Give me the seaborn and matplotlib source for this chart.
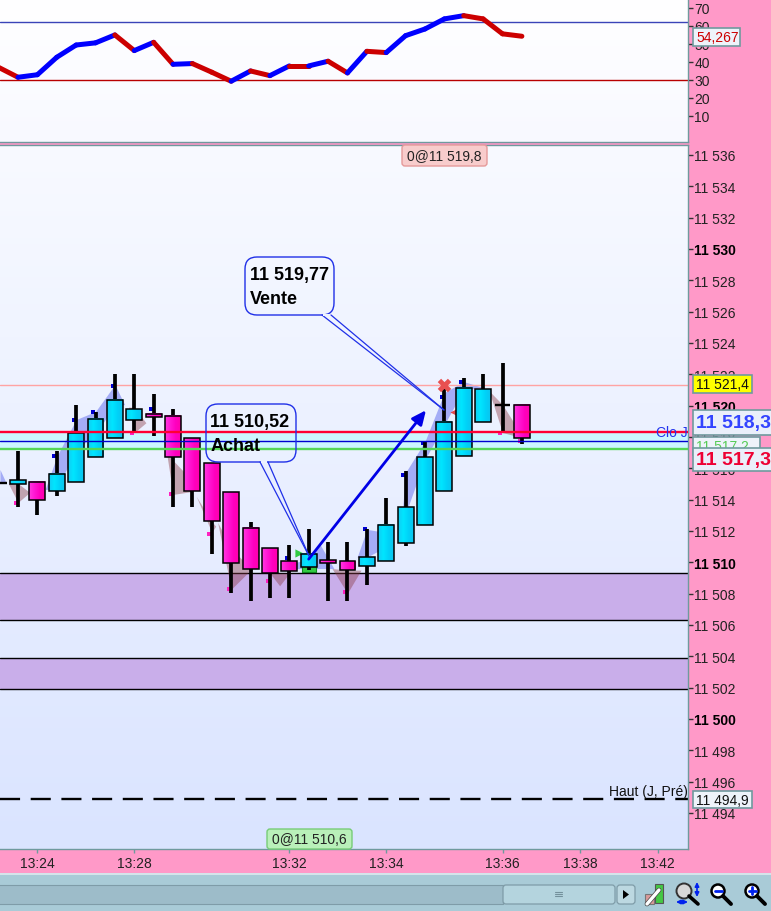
import numpy as np
import matplotlib
matplotlib.use("Agg")
import matplotlib.pyplot as plt
import seaborn as sns
from matplotlib.colors import LinearSegmentedColormap
from matplotlib.patches import Rectangle, FancyBboxPatch, Circle, Polygon

BASE = 11500
idx = list(range(-1, 27))
opens = [15.03, 14.97, 15.10, 14.52, 15.10, 16.69, 17.90, 19.11, 19.49, 19.36, 17.90, 16.31, 14.46, 12.17, 10.89,
         10.06, 9.68, 10.13, 10.06, 9.75, 10.06, 11.21, 12.36, 14.52, 16.75, 18.98, 20.06, 20.06]
closes = [15.03, 15.22, 13.95, 15.61, 18.22, 19.17, 20.38, 19.81, 19.24, 16.69, 14.52, 12.61, 9.94, 9.55, 9.30,
          9.43, 10.51, 9.94, 9.49, 10.32, 12.36, 13.50, 16.69, 18.98, 21.15, 21.08, 20.06, 17.90]
highs = [15.03, 17.07, 15.10, 17.07, 20.06, 19.62, 22.04, 22.04, 20.76, 19.75, 17.90, 16.31, 14.46, 12.55, 10.89,
         11.08, 12.10, 11.27, 11.27, 12.10, 14.08, 15.80, 17.71, 21.08, 21.78, 22.04, 22.74, 20.06]
lows = [15.03, 13.50, 12.99, 14.20, 15.10, 16.69, 17.90, 18.28, 18.03, 13.50, 13.50, 10.51, 8.03, 7.52, 7.71,
        7.71, 9.49, 7.52, 7.52, 8.54, 10.06, 11.02, 12.36, 14.52, 16.75, 18.98, 18.28, 17.52]
rsi_idx = list(range(-1, 27))
rsi = [37.0, 31.5, 32.9, 42.6, 49.4, 50.6, 55.0, 46.3, 50.9, 38.7, 39.1, 34.3, 29.3, 35.0, 32.4, 37.8, 37.8, 40.4,
       33.9, 45.9, 45.2, 54.6, 58.3, 63.9, 65.7, 63.9, 55.6, 54.27]
time_idx = [1, 6, 14, 19, 25, 29, 33]
time_labels = ["13:24", "13:28", "13:32", "13:34", "13:36", "13:38", "13:42"]
price_ticks = list(range(11494, 11537, 2))
rsi_ticks = [10, 20, 30, 40, 50, 60, 70]

shade_blue = [
    ([-0.93, -0.6], [15.92, 15.03], [15.03, 15.03]),
    ([1.4, 2, 3, 4, 5, 5.5], [14.65, 16.75, 19.11, 19.62, 21.34, 20.06], [14.65, 14.65, 17.2, 18.15, 20.06, 20.06]),
    ([13.7, 15, 15.6, 16.3], [9.8, 10.2, 11.1, 9.6], [9.6, 9.6, 9.6, 9.6]),
    ([17.5, 18, 19, 19.3], [10.32, 12.1, 11.9, 11.5], [10.32, 10.32, 11.0, 11.5]),
    ([19.8, 20, 21, 22, 23, 24], [12.74, 15.73, 17.71, 20.83, 21.53, 21.15], [12.74, 13.1, 16.56, 18.79, 21.02, 21.15]),
]
shade_brown = [
    ([-0.5, 0, 0.6], [15.03, 15.03, 14.46], [15.03, 13.82, 14.46]),
    ([5.7, 6, 6.6], [19.9, 19.9, 18.9], [19.9, 18.28, 18.9]),
    ([7.5, 8, 9, 9.1], [18.3, 16.5, 15.2, 14.6], [18.3, 14.33, 14.52, 14.6]),
    ([9.2, 10, 10.2], [14.2, 12.6, 12.3], [14.2, 11.91, 12.3]),
    ([10.3, 11, 12, 12.1], [12.55, 10.9, 9.6, 9.5], [12.55, 8.28, 9.5, 9.5]),
    ([13.0, 13.5, 14.0], [9.3, 9.3, 9.3], [9.3, 8.5, 9.3]),
    ([16.2, 17, 17.7], [9.6, 9.5, 9.5], [9.6, 8.03, 9.5]),
    ([24.3, 25, 26], [20.95, 20.06, 18.1], [20.95, 18.28, 17.95]),
]
high_marks_idx = [2, 3, 4, 5, 7, 14, 18, 20, 21, 22, 23]
high_marks = [16.75, 19.05, 19.62, 21.27, 19.75, 10.25, 12.1, 15.54, 17.64, 20.57, 21.53]
low_marks_idx = [0, 6, 8, 10, 11, 13, 17, 25, 26]
low_marks = [13.76, 18.28, 14.33, 11.78, 8.28, 8.79, 8.09, 18.28, 17.77]
levels = {"clo_red": 18.3, "clo_blue": 17.77, "clo_green": 17.26, "high": 21.34, "haut": -5.1}
zones = [(6.3, 9.3), (1.9, 3.9)]

PINK = "#ff99c8"
sns.set_theme(style="white", rc={"font.family": ["Liberation Sans", "DejaVu Sans"], "axes.linewidth": 1.0})
plt.rcParams["font.family"] = ["Liberation Sans", "DejaVu Sans"]

W, H = 771, 912
fig = plt.figure(figsize=(W / 100, H / 100), dpi=100, facecolor=PINK)


def px_axes(x0, y0, x1, y1, **kw):
    return fig.add_axes([x0 / W, 1 - y1 / H, (x1 - x0) / W, (y1 - y0) / H], **kw)


def grad_bg(ax, top, bottom):
    cm = LinearSegmentedColormap.from_list("bg", [top, bottom])
    ax.imshow(np.linspace(0, 1, 128)[:, None], cmap=cm, extent=[0, 1, 0, 1], transform=ax.transAxes,
              aspect="auto", zorder=0)


EDGE = "#6f9a9e"
X0, X1 = -18 / 19.38, (688 - 18) / 19.38

# ---------- RSI panel
ax_r = px_axes(0, -1, 688, 143)
grad_bg(ax_r, "#ffffff", "#f8f9ff")
ax_r.axhline(61.9, color="#3a44b8", lw=1.0, zorder=1)
ax_r.axhline(30, color="#b80000", lw=1.0, zorder=1)
for k in range(len(rsi) - 1):
    col = "#0000ff" if rsi[k + 1] > rsi[k] else "#cc0000"
    sns.lineplot(x=rsi_idx[k:k + 2], y=rsi[k:k + 2], ax=ax_r, color=col, lw=3.6, errorbar=None, legend=False,
                 solid_capstyle="round", zorder=3)
ax_r.set_xlim(X0, X1)
ax_r.set_ylim(-4.44, 75.5)
ax_r.set_xticks([])
ax_r.set_xlabel("")
ax_r.yaxis.tick_right()
ax_r.set_yticks(rsi_ticks)
ax_r.tick_params(axis="y", right=True, length=3.6, width=1, pad=1, labelsize=10, color="#333333", labelcolor="#222222")
for s in ["top", "left"]:
    ax_r.spines[s].set_visible(False)
for s in ["right", "bottom"]:
    ax_r.spines[s].set_color(EDGE)

# ---------- Price panel
ax = px_axes(0, 146, 688, 850)
grad_bg(ax, "#f8faff", "#dae4ff")
ax.axhspan(BASE + levels["clo_green"], BASE + levels["clo_red"], color="#ccf6ff", lw=0, zorder=1)
for lo, hi in zones:
    ax.axhspan(BASE + lo, BASE + hi, color="#c9aeea", lw=0, zorder=1)
    ax.axhline(BASE + lo, color="black", lw=1, zorder=2)
    ax.axhline(BASE + hi, color="black", lw=1, zorder=2)
for xs, up, low in shade_blue:
    ax.fill_between(xs, BASE + np.array(up), BASE + np.array(low), color="#a4acf6", lw=0, zorder=2)
for xs, up, low in shade_brown:
    ax.fill_between(xs, BASE + np.array(up), BASE + np.array(low), color="#8a3a44", alpha=0.42, lw=0, zorder=2)
ax.axhline(BASE + levels["high"], color="#ffa3a3", lw=1, zorder=2)
ax.axhline(BASE + levels["haut"], color="black", lw=1.7, dashes=(8.5, 4.5), zorder=2)

o, c, h, l = [BASE + np.array(a) for a in (opens, closes, highs, lows)]
ax.vlines(idx, l, h, color="black", lw=2.7, zorder=4)
cyan = LinearSegmentedColormap.from_list("c", ["#12cdf3", "#00e6ff", "#00d2f8", "#0cc4ef"])
mag = LinearSegmentedColormap.from_list("m", ["#ff38e0", "#ff18d4", "#ff00c0", "#ff00ac"])
g = np.linspace(0, 1, 32)[None, :]
w = 0.41
for i, a, b in zip(idx, o, c):
    if a == b:
        ax.hlines(a, i - w, i + w, color="black", lw=1.7, zorder=5)
        continue
    ax.imshow(g, cmap=cyan if b > a else mag, extent=[i - w, i + w, min(a, b), max(a, b)], aspect="auto", zorder=5)
    ax.add_patch(Rectangle((i - w, min(a, b)), 2 * w, abs(a - b), fc="none", ec="black", lw=1.1, zorder=6))
ax.scatter(np.array(high_marks_idx) - 0.12, BASE + np.array(high_marks), marker="s", s=6, color="#0000d0", lw=0, zorder=3)
ax.scatter(np.array(low_marks_idx) - 0.12, BASE + np.array(low_marks), marker="s", s=5, color="#ff20c0", lw=0, zorder=3)

# level lines over the candles
ax.axhline(BASE + levels["clo_red"], color="#ff0033", lw=1.7, zorder=7)
ax.axhline(BASE + levels["clo_blue"], color="#0000d0", lw=1.0, zorder=7)
ax.axhline(BASE + levels["clo_green"], color="#55d655", lw=1.7, zorder=7)

# trade marks
ax.scatter([15], [BASE + 9.8], marker="s", s=90, color="#33cc44", edgecolor="#118822", lw=0.8, zorder=3.5)
ax.scatter([14.48], [BASE + 10.6], marker=">", s=35, color="#33cc44", lw=0, zorder=4)
ax.scatter([22], [BASE + 21.3], marker="X", s=95, color="#e85050", lw=0, zorder=7)
ax.scatter([22.5], [BASE + 19.6], marker="<", s=35, color="#e04848", lw=0, zorder=3)
ax.annotate("", xy=(21.05, BASE + 19.7), xytext=(15, BASE + 10.2),
            arrowprops=dict(arrowstyle="-|>,head_width=0.32,head_length=0.7", color="#0000e6", lw=2, shrinkA=0, shrinkB=0),
            zorder=8)

ax.set_xlim(X0, X1)
ax.set_ylim(BASE - 8.30, BASE + 36.63)
ax.set_xticks(time_idx)
ax.set_xticklabels(time_labels)
ax.yaxis.tick_right()
ax.set_yticks(price_ticks)
ax.set_yticklabels([f"{p // 1000} {p % 1000:03d}" for p in price_ticks])
for t, p in zip(ax.get_yticklabels(), price_ticks):
    t.set_fontweight("bold" if p % 10 == 0 else "normal")
    t.set_color("black" if p % 10 == 0 else "#222222")
ax.tick_params(axis="y", right=True, length=3.6, width=1, pad=1, labelsize=10, color="#333333")
ax.tick_params(axis="x", bottom=True, length=3, width=1, pad=2, labelsize=10, color=EDGE, labelcolor="#222222")
for s in ["top", "left"]:
    ax.spines[s].set_visible(False)
for s in ["right", "bottom"]:
    ax.spines[s].set_color(EDGE)
ax.spines["top"].set_visible(True)
ax.spines["top"].set_color(EDGE)

# ---------- Overlay in pixel coordinates: labels, callouts, toolbar
ov = fig.add_axes([0, 0, 1, 1], facecolor="none", zorder=10)
ov.set_xlim(0, W)
ov.set_ylim(H, 0)
ov.axis("off")


def box(x0, y0, x1, y1, fc, ec=EDGE, lw=1.2, z=3):
    ov.add_patch(Rectangle((x0, y0), x1 - x0, y1 - y0, fc=fc, ec=ec, lw=lw, zorder=z))


def label(x0, y0, x1, y1, s, fc, color, size=10, weight="normal", z=3, ec=EDGE):
    box(x0, y0, x1, y1, fc, ec=ec, z=z)
    ov.text(x0 + 3, (y0 + y1) / 2 + 0.5, s, ha="left", va="center", color=color, fontsize=size, fontweight=weight,
            zorder=z + 0.5, clip_on=True)


label(693, 29, 740, 47, "54,267", "#eef3fa", "#cc0000")
label(693, 376, 752, 394, "11 521,4", "#ffff00", "#111111")
label(693, 438, 760, 456, "11 517,2", "#eef3fa", "#55cc55", z=3)
label(693, 411, 775, 436, "11 518,3", "#eaeffa", "#3344ff", size=14, weight="bold", z=4)
label(693, 449, 775, 472, "11 517,3", "#eaeffa", "#ee0033", size=14, weight="bold", z=5)
label(693, 792, 752, 809, "11 494,9", "#eef3fa", "#111111")
ov.text(688, 433, "Clo J", ha="right", va="center", color="#2233ee", fontsize=10, zorder=2)
ov.text(688, 792, "Haut (J, Pré)", ha="right", va="center", color="#111111", fontsize=10, zorder=2)


def chip(x0, y0, x1, y1, s, fc, ec):
    ov.add_patch(FancyBboxPatch((x0 + 2, y0 + 2), x1 - x0 - 4, y1 - y0 - 4, boxstyle="round,pad=2,rounding_size=3",
                                fc=fc, ec=ec, lw=1, zorder=3))
    ov.text((x0 + x1) / 2, (y0 + y1) / 2 + 0.5, s, ha="center", va="center", fontsize=10, color="#222222", zorder=4)


chip(402, 146, 487, 167, "0@11 519,8", "#f8cccc", "#e59a9a")
chip(267, 830, 352, 850, "0@11 510,6", "#b9f0b9", "#77cc77")

BL = "#2030e8"


def callout(x0, y0, x1, y1, l1, l2, base0, base1, tip):
    ov.add_patch(FancyBboxPatch((x0 + 12, y0 + 12), x1 - x0 - 24, y1 - y0 - 24, boxstyle="round,pad=12,rounding_size=12",
                                fc="none", ec=BL, lw=1, zorder=2))
    ov.plot([base0, tip[0]], [y1, tip[1]], color=BL, lw=0.9, zorder=2)
    ov.plot([base1, tip[0]], [y1, tip[1]], color=BL, lw=0.9, zorder=2)
    ov.add_patch(Rectangle((base0 + 1, y1 - 1), base1 - base0 - 2, 2, fc="#eef3ff", ec="none", zorder=2.1))
    ov.text(x0 + 4.5, y0 + 18, l1, fontsize=13, fontweight="bold", color="black", va="center", zorder=3)
    ov.text(x0 + 4.5, y0 + 42, l2, fontsize=13, fontweight="bold", color="black", va="center", zorder=3)


callout(206, 405, 296, 463, "11 510,52", "Achat", 260, 268, (309, 557))
callout(245, 258, 334, 316, "11 519,77", "Vente", 322, 331, (444, 411))

# toolbar
box(0, 874, W, H + 2, "#a9cbd7", ec="none", z=1)
ov.plot([0, W], [875, 875], color="#dfeaee", lw=1.2, zorder=1.2)
box(-2, 886, 503, 905, "#9dbcc9", ec="#7f9ca8", lw=0.8, z=1.5)
ov.add_patch(FancyBboxPatch((504, 887), 110, 17, boxstyle="round,pad=1,rounding_size=3", fc="#b4d4de", ec="#7f9ca8",
                            lw=0.9, zorder=2))
ov.add_patch(FancyBboxPatch((618, 887), 16, 17, boxstyle="round,pad=1,rounding_size=3", fc="#bcd8e1", ec="#7f9ca8",
                            lw=0.9, zorder=2))
ov.add_patch(Polygon([[623, 891], [623, 900], [629, 895.5]], fc="black", ec="none", zorder=3))
for yy in (893.5, 895.5, 897.5):
    ov.plot([555, 562], [yy, yy], color="#74919c", lw=0.8, zorder=3)
# wrench icon
box(645, 895, 654, 905, "#d99a9a", ec="#777777", lw=0.8, z=3)
box(655, 885, 663, 904, "#44c844", ec="#555555", lw=0.8, z=3)
ov.plot([647, 659], [905, 891], color="#444444", lw=3.4, zorder=4)
ov.plot([647, 659], [905, 891], color="white", lw=2.4, zorder=4.1)
# zoom-fit icon
ov.add_patch(Circle((684, 892), 7.5, fc="#d8d8d8", ec="#333333", lw=1.4, zorder=3))
ov.plot([689, 698], [897, 905], color="black", lw=2.6, zorder=3)
ov.annotate("", xy=(697, 883), xytext=(697, 898), arrowprops=dict(arrowstyle="<|-|>", color="#0022ee", lw=1.2, mutation_scale=6, shrinkA=0, shrinkB=0))
ov.annotate("", xy=(676, 903), xytext=(688, 903), arrowprops=dict(arrowstyle="<|-|>", color="#0022ee", lw=1.2, mutation_scale=6, shrinkA=0, shrinkB=0))
# zoom out / in
for cx, plus in ((718, False), (752, True)):
    ov.add_patch(Circle((cx, 892), 6.5, fc="white", ec="black", lw=1.8, zorder=3))
    ov.plot([cx + 5, cx + 13], [897, 905], color="black", lw=2.8, zorder=3)
    ov.plot([cx - 3.5, cx + 3.5], [892, 892], color="#0022ee", lw=2, zorder=4)
    if plus:
        ov.plot([cx, cx], [888.5, 895.5], color="#0022ee", lw=2, zorder=4)

fig.savefig("out.png", dpi=100, facecolor=PINK)
